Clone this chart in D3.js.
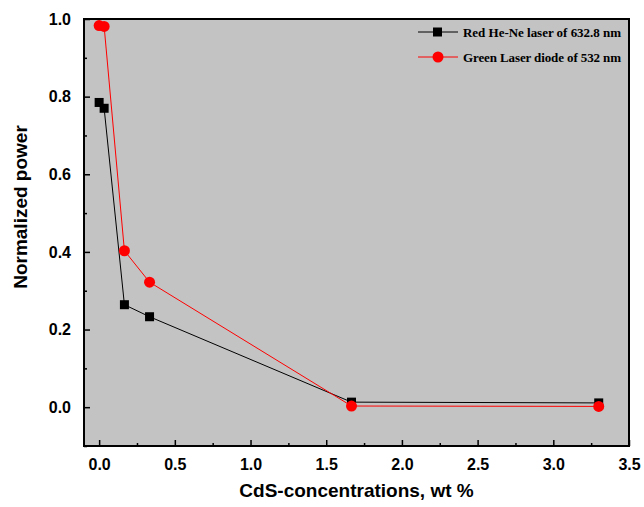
<!DOCTYPE html>
<html>
<head>
<meta charset="utf-8">
<script src="https://cdn.jsdelivr.net/npm/d3@7"></script>
<style>
  html, body { margin: 0; padding: 0; background: #fff; overflow: hidden; }
  svg { display: block; }
  .tick text { font-family: "Liberation Sans", Arial, sans-serif; font-weight: bold; font-size: 16px; fill: #000; }
  .axis-label { font-family: "Liberation Sans", Arial, sans-serif; font-weight: bold; font-size: 19px; fill: #000; }
  .legend text { font-family: "Liberation Serif", "Times New Roman", serif; font-weight: bold; font-size: 13px; fill: #000; }
</style>
</head>
<body>
<svg id="chart" width="644" height="507"></svg>
<script>
// concentrations (wt %)
const conc = [0, 0.033, 0.167, 0.333, 1.667, 3.3];
const redHeNe = [0.785, 0.770, 0.264, 0.233, 0.013, 0.011];
const greenDiode = [0.983, 0.981, 0.403, 0.322, 0.003, 0.002];
const seriesNames = ['Red He-Ne laser of 632.8 nm', 'Green Laser diode of 532 nm'];
const xTicks = [0, 0.5, 1.0, 1.5, 2.0, 2.5, 3.0, 3.5];
const yTicks = [0, 0.2, 0.4, 0.6, 0.8, 1.0];

const margin = { left: 84, right: 15, top: 19, bottom: 61 };
const svg = d3.select('#chart');
const width = +svg.attr('width');
const height = +svg.attr('height');
const innerWidth = width - margin.left - margin.right;
const innerHeight = height - margin.top - margin.bottom;

const g = svg.append('g')
  .attr('transform', `translate(${margin.left},${margin.top})`);

const xScale = d3.scaleLinear().domain([-0.1, 3.5]).range([0, innerWidth]);
const yScale = d3.scaleLinear().domain([-0.1, 1.0]).range([innerHeight, 0]);

g.append('rect')
  .attr('width', innerWidth)
  .attr('height', innerHeight)
  .attr('fill', '#c3c3c3');

// minor ticks
const xMinor = d3.range(0.25, 3.5, 0.5);
const yMinor = d3.range(-0.1, 1.0, 0.2);
g.append('g')
  .attr('transform', `translate(0,${innerHeight})`)
  .call(d3.axisBottom(xScale).tickValues(xMinor).tickSize(-3).tickFormat(''))
  .call(a => a.select('.domain').remove())
  .call(a => a.selectAll('text').remove())
  .selectAll('line').attr('stroke-width', 1.5);
g.append('g')
  .call(d3.axisLeft(yScale).tickValues(yMinor).tickSize(-3).tickFormat(''))
  .call(a => a.select('.domain').remove())
  .call(a => a.selectAll('text').remove())
  .selectAll('line').attr('stroke-width', 1.5);

// major axes
const xAxisG = g.append('g')
  .attr('transform', `translate(0,${innerHeight})`)
  .call(d3.axisBottom(xScale).tickValues(xTicks).tickSize(-6).tickPadding(13).tickFormat(d3.format('.1f')));
xAxisG.select('.domain').remove();
xAxisG.selectAll('line').attr('stroke-width', 1.5);

const yAxisG = g.append('g')
  .call(d3.axisLeft(yScale).tickValues(yTicks).tickSize(-6).tickPadding(13).tickFormat(d3.format('.1f')));
yAxisG.select('.domain').remove();
yAxisG.selectAll('line').attr('stroke-width', 1.5);

// frame
g.append('rect')
  .attr('width', innerWidth)
  .attr('height', innerHeight)
  .attr('fill', 'none')
  .attr('stroke', '#000')
  .attr('stroke-width', 2);

const line = d3.line().x(d => xScale(d[0])).y(d => yScale(d[1]));
const blackData = conc.map((c, i) => [c, redHeNe[i]]);
const redData = conc.map((c, i) => [c, greenDiode[i]]);

g.append('path').datum(blackData)
  .attr('d', line).attr('fill', 'none').attr('stroke', '#000').attr('stroke-width', 1);
g.selectAll('.sq').data(blackData)
  .enter().append('rect')
  .attr('class', 'sq')
  .attr('x', d => xScale(d[0]) - 4.5)
  .attr('y', d => yScale(d[1]) - 4.5)
  .attr('width', 9).attr('height', 9)
  .attr('fill', '#000');

g.append('path').datum(redData)
  .attr('d', line).attr('fill', 'none').attr('stroke', '#ff0000').attr('stroke-width', 1);
g.selectAll('.dot').data(redData)
  .enter().append('circle')
  .attr('class', 'dot')
  .attr('cx', d => xScale(d[0]))
  .attr('cy', d => yScale(d[1]))
  .attr('r', 5.5)
  .attr('fill', '#ff0000');

// legend
const legend = svg.append('g').attr('class', 'legend');
const legendItems = [
  { name: seriesNames[0], color: '#000', shape: 'square', y: 32 },
  { name: seriesNames[1], color: '#ff0000', shape: 'circle', y: 57 }
];
legendItems.forEach(it => {
  legend.append('line')
    .attr('x1', 418).attr('x2', 458).attr('y1', it.y).attr('y2', it.y)
    .attr('stroke', it.color).attr('stroke-width', 1);
  if (it.shape === 'square') {
    legend.append('rect').attr('x', 433).attr('y', it.y - 4.5).attr('width', 9).attr('height', 9).attr('fill', it.color);
  } else {
    legend.append('circle').attr('cx', 438).attr('cy', it.y).attr('r', 5.5).attr('fill', it.color);
  }
  legend.append('text').attr('x', 463).attr('y', it.y + 4.5)
    .attr('textLength', 158).attr('lengthAdjust', 'spacing')
    .text(it.name);
});

// axis labels
svg.append('text')
  .attr('class', 'axis-label')
  .attr('x', margin.left + innerWidth / 2)
  .attr('y', 497)
  .attr('text-anchor', 'middle')
  .text('CdS-concentrations, wt %');

svg.append('text')
  .attr('class', 'axis-label')
  .attr('transform', 'translate(27,207) rotate(-90)')
  .attr('text-anchor', 'middle')
  .text('Normalized power');
</script>
</body>
</html>
